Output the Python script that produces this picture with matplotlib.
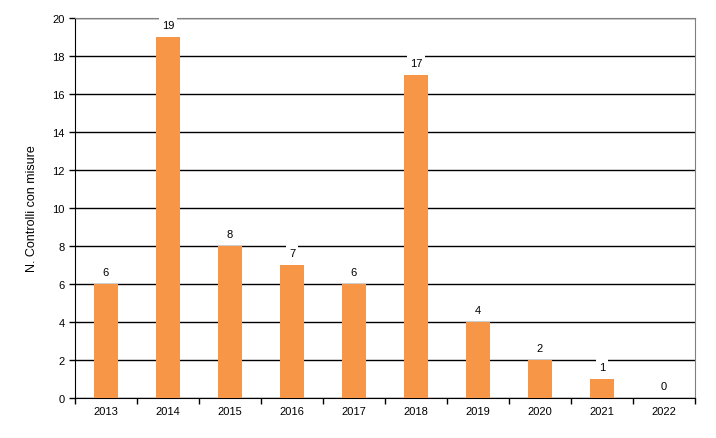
import matplotlib
matplotlib.use('Agg')
import matplotlib.pyplot as plt
import numpy as np

anni = ['2013', '2014', '2015', '2016', '2017', '2018', '2019', '2020', '2021', '2022']
controlli = [6, 19, 8, 7, 6, 17, 4, 2, 1, 0]

plt.rcParams['font.family'] = ['Liberation Sans', 'DejaVu Sans']

fig = plt.figure(figsize=(7.16, 4.39), dpi=100)
ax = fig.add_axes([0.1047, 0.0911, 0.866, 0.8656])

x = np.arange(len(anni))
ax.bar(x, controlli, width=0.4, color='#F79646', zorder=3)

# etichette sopra le barre
for xi, v in zip(x, controlli):
    ax.annotate(str(v), (xi, v), xytext=(0, 9), textcoords='offset points',
                ha='center', va='center', fontsize=8,
                bbox=dict(facecolor='white', edgecolor='none', pad=2), zorder=5)

ax.set_xlim(-0.5, len(anni) - 0.5)
ax.set_ylim(0, 20)
ax.set_yticks(range(0, 21, 2))
ax.set_xticks(x)
ax.set_xticklabels(anni, fontsize=8)
ax.set_xticks(np.arange(-0.5, len(anni), 1), minor=True)
ax.tick_params(axis='x', which='major', length=0, pad=6)
ax.tick_params(axis='x', which='minor', length=4, direction='out', width=1)
ax.tick_params(axis='y', labelsize=8, length=4, direction='out', width=1)

ax.grid(axis='y', color='black', linewidth=1, zorder=1)
for sp in ['left', 'bottom']:
    ax.spines[sp].set_color('black')
for sp in ['top', 'right']:
    ax.spines[sp].set_color('#808080')

ax.set_ylabel('N. Controlli con misure', fontsize=9, labelpad=10)

fig.savefig('out.png', dpi=100)
